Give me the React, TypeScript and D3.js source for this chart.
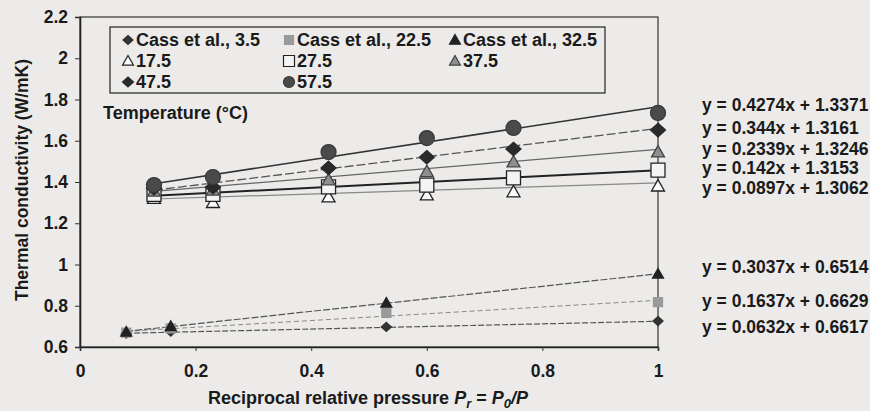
import React, { useEffect, useRef } from 'react';
import * as d3 from 'd3';

// reciprocal relative pressure values
const tempX = [0.128, 0.23, 0.43, 0.6, 0.75, 1.0];
const cassX = [0.08, 0.157, 0.53, 1.0];

// thermal conductivity (W/mK) per temperature
const t17_5 = [1.32, 1.3, 1.327, 1.337, 1.352, 1.38];
const t27_5 = [1.34, 1.34, 1.376, 1.385, 1.42, 1.458];
const t37_5 = [1.355, 1.36, 1.41, 1.45, 1.497, 1.545];
const t47_5 = [1.37, 1.375, 1.468, 1.52, 1.56, 1.652];
const t57_5 = [1.385, 1.424, 1.545, 1.613, 1.662, 1.735];
const cass3_5 = [0.665, 0.675, 0.697, 0.726];
const cass22_5 = [0.67, 0.69, 0.765, 0.818];
const cass32_5 = [0.673, 0.7, 0.813, 0.954];

// trend line coefficients, in label order
const slopes = [0.4274, 0.344, 0.2339, 0.142, 0.0897, 0.3037, 0.1637, 0.0632];
const intercepts = [1.3371, 1.3161, 1.3246, 1.3153, 1.3062, 0.6514, 0.6629, 0.6617];

const yTicks = [0.6, 0.8, 1, 1.2, 1.4, 1.6, 1.8, 2, 2.2];
const xTicks = [0, 0.2, 0.4, 0.6, 0.8, 1];

type Shape = 'diamond' | 'square' | 'triangle' | 'circle';
interface Series {
  label: string;
  xs: number[];
  ys: number[];
  shape: Shape;
  size: number;
  fill: string;
  stroke: string;
  lineColor: string;
  lineWidth: number;
  dash: string | null;
  trend: number; // index into slopes/intercepts
}

const series: Series[] = [
  { label: 'Cass et al., 3.5', xs: cassX, ys: cass3_5, shape: 'diamond', size: 10, fill: '#333', stroke: '#333', lineColor: '#555', lineWidth: 1.2, dash: '6,2', trend: 7 },
  { label: 'Cass et al., 22.5', xs: cassX, ys: cass22_5, shape: 'square', size: 9, fill: '#9a9a9a', stroke: '#999', lineColor: '#888', lineWidth: 1, dash: '5,3', trend: 6 },
  { label: 'Cass et al., 32.5', xs: cassX, ys: cass32_5, shape: 'triangle', size: 11, fill: '#222', stroke: '#222', lineColor: '#555', lineWidth: 1.2, dash: '7,2', trend: 5 },
  { label: '17.5', xs: tempX, ys: t17_5, shape: 'triangle', size: 13, fill: '#fafafa', stroke: '#222', lineColor: '#888', lineWidth: 1.2, dash: null, trend: 4 },
  { label: '27.5', xs: tempX, ys: t27_5, shape: 'square', size: 14, fill: '#f4f4f4', stroke: '#222', lineColor: '#222', lineWidth: 2, dash: null, trend: 3 },
  { label: '37.5', xs: tempX, ys: t37_5, shape: 'triangle', size: 13, fill: '#8e8e8e', stroke: '#444', lineColor: '#666', lineWidth: 1.3, dash: null, trend: 2 },
  { label: '47.5', xs: tempX, ys: t47_5, shape: 'diamond', size: 15, fill: '#2a2a2a', stroke: '#2a2a2a', lineColor: '#555', lineWidth: 1.3, dash: '9,3', trend: 1 },
  { label: '57.5', xs: tempX, ys: t57_5, shape: 'circle', size: 15, fill: '#4a4a4a', stroke: '#3a3a3a', lineColor: '#333', lineWidth: 1.6, dash: null, trend: 0 },
];

const eqLabels = [
  'y = 0.4274x + 1.3371',
  'y = 0.344x + 1.3161',
  'y = 0.2339x + 1.3246',
  'y = 0.142x + 1.3153',
  'y = 0.0897x + 1.3062',
  'y = 0.3037x + 0.6514',
  'y = 0.1637x + 0.6629',
  'y = 0.0632x + 0.6617',
];
const eqY = [105, 128, 149, 168, 188, 267, 301, 327];

function shapePath(shape: Shape, s: number): string {
  const h = s / 2;
  if (shape === 'diamond') return `M0,${-h * 0.9}L${h},0L0,${h * 0.9}L${-h},0Z`;
  if (shape === 'square') return `M${-h},${-h}H${h}V${h}H${-h}Z`;
  if (shape === 'triangle') return `M0,${-h}L${h},${h * 0.75}L${-h},${h * 0.75}Z`;
  return d3.arc()({ innerRadius: 0, outerRadius: h, startAngle: 0, endAngle: Math.PI * 2 }) as string;
}

const App: React.FC = () => {
  const svgRef = useRef<SVGSVGElement>(null);

  useEffect(() => {
    if (!svgRef.current) return;
    const width = 870;
    const height = 411;
    const margin = { top: 17, right: 212, bottom: 64, left: 80 };
    const innerW = width - margin.left - margin.right;
    const innerH = height - margin.top - margin.bottom;
    const font = '"Liberation Sans", Arial, sans-serif';

    const svg = d3.select(svgRef.current);
    svg.selectAll('*').remove();
    svg.attr('width', width).attr('height', height).style('font-family', font);

    svg.append('rect').attr('width', width).attr('height', height).attr('fill', '#ecebe9');

    const g = svg.append('g').attr('transform', `translate(${margin.left},${margin.top})`);

    const x = d3.scaleLinear().domain([0, 1]).range([0, innerW]);
    const y = d3.scaleLinear().domain([0.6, 2.2]).range([innerH, 0]);

    // frame
    g.append('rect')
      .attr('width', innerW)
      .attr('height', innerH)
      .attr('fill', 'none')
      .attr('stroke', '#333')
      .attr('stroke-width', 1.2);

    // axes
    const yAxis = g.append('g')
      .call(d3.axisLeft(y).tickValues(yTicks).tickSize(5).tickFormat((d) => String(+d)));
    const xAxis = g.append('g')
      .attr('transform', `translate(0,${innerH})`)
      .call(d3.axisBottom(x).tickValues(xTicks).tickSize(4).tickFormat((d) => String(+d)));
    [yAxis, xAxis].forEach((a) => {
      a.select('.domain').attr('stroke', '#222').attr('stroke-width', 1.6);
      a.selectAll('.tick line').attr('stroke', '#333');
      a.selectAll('.tick text')
        .attr('fill', '#1a1a1a')
        .attr('font-size', 17.5)
        .attr('font-weight', 'bold')
        .attr('font-family', font);
    });
    yAxis.selectAll('.tick text').attr('x', -12);
    xAxis.selectAll('.tick text').attr('y', 18);

    // trend lines
    series.forEach((s) => {
      const m = slopes[s.trend];
      const b = intercepts[s.trend];
      const x0 = d3.min(s.xs) as number;
      const x1 = d3.max(s.xs) as number;
      g.append('line')
        .attr('x1', x(x0))
        .attr('y1', y(m * x0 + b))
        .attr('x2', x(x1))
        .attr('y2', y(m * x1 + b))
        .attr('stroke', s.lineColor)
        .attr('stroke-width', s.lineWidth)
        .attr('stroke-dasharray', s.dash);
    });

    // points
    series.forEach((s) => {
      g.selectAll(null)
        .data(s.xs.map((xv, i) => [xv, s.ys[i]]))
        .enter()
        .append('path')
        .attr('transform', (d) => `translate(${x(d[0])},${y(d[1])})`)
        .attr('d', shapePath(s.shape, s.size))
        .attr('fill', s.fill)
        .attr('stroke', s.stroke)
        .attr('stroke-width', 1.3);
    });

    // equations
    svg.selectAll('text.eq')
      .data(eqLabels)
      .enter()
      .append('text')
      .attr('class', 'eq')
      .attr('x', 702)
      .attr('y', (_d, i) => eqY[i])
      .attr('dy', '0.35em')
      .attr('font-size', 17.5)
      .attr('font-weight', 'bold')
      .attr('fill', '#1a1a1a')
      .text((d) => d);

    // legend
    const lg = svg.append('g');
    lg.append('rect')
      .attr('x', 110)
      .attr('y', 27)
      .attr('width', 495)
      .attr('height', 66)
      .attr('fill', '#ecebe9')
      .attr('stroke', '#222')
      .attr('stroke-width', 1.2);
    const colX = [128, 289, 455];
    const rowY = [40, 61, 82];
    series.forEach((s, i) => {
      const cx = colX[i % 3];
      const cy = rowY[Math.floor(i / 3)];
      lg.append('path')
        .attr('transform', `translate(${cx},${cy})`)
        .attr('d', shapePath(s.shape, Math.min(s.size, 11)))
        .attr('fill', s.fill)
        .attr('stroke', s.stroke)
        .attr('stroke-width', 1.2);
      lg.append('text')
        .attr('x', cx + 8)
        .attr('y', cy)
        .attr('dy', '0.35em')
        .attr('font-size', 18)
        .attr('font-weight', 'bold')
        .attr('fill', '#1a1a1a')
        .text(s.label);
    });

    svg.append('text')
      .attr('x', 103)
      .attr('y', 113)
      .attr('dy', '0.35em')
      .attr('font-size', 18)
      .attr('font-weight', 'bold')
      .attr('fill', '#1a1a1a')
      .text('Temperature (°C)');

    // axis titles
    svg.append('text')
      .attr('transform', 'translate(22,180) rotate(-90)')
      .attr('text-anchor', 'middle')
      .attr('dy', '0.35em')
      .attr('font-size', 17.5)
      .attr('font-weight', 'bold')
      .attr('fill', '#1a1a1a')
      .text('Thermal conductivity (W/mK)');

    const xt = svg.append('text')
      .attr('x', 368)
      .attr('y', 398)
      .attr('text-anchor', 'middle')
      .attr('dy', '0.35em')
      .attr('font-size', 18)
      .attr('font-weight', 'bold')
      .attr('fill', '#1a1a1a');
    xt.append('tspan').text('Reciprocal relative pressure ');
    xt.append('tspan').attr('font-style', 'italic').text('P');
    xt.append('tspan').attr('font-style', 'italic').attr('font-size', 13).attr('dy', 4).text('r');
    xt.append('tspan').attr('dy', -4).text(' = ');
    xt.append('tspan').attr('font-style', 'italic').text('P');
    xt.append('tspan').attr('font-style', 'italic').attr('font-size', 13).attr('dy', 4).text('0');
    xt.append('tspan').attr('dy', -4).attr('font-style', 'italic').text('/P');
  }, []);

  return (
    <div>
      <style>{'body{margin:0}'}</style>
      <svg ref={svgRef}></svg>
    </div>
  );
};

export default App;
